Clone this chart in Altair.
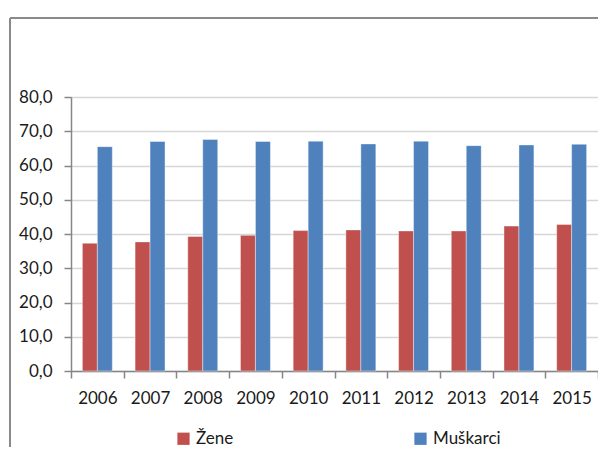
import altair as alt
import pandas as pd

years = ["2006", "2007", "2008", "2009", "2010", "2011", "2012", "2013", "2014", "2015"]
zene = [37.3, 37.7, 39.3, 39.6, 41.0, 41.2, 40.9, 40.9, 42.3, 42.8]
muskarci = [65.5, 67.0, 67.6, 67.0, 67.1, 66.3, 67.1, 65.8, 66.0, 66.2]
series = ["Žene", "Muškarci"]
colors = ["#C0504D", "#4F81BD"]

rows = []
for i, y in enumerate(years):
    rows.append({"godina": y, "pol": series[0], "vrijednost": zene[i]})
    rows.append({"godina": y, "pol": series[1], "vrijednost": muskarci[i]})
df = pd.DataFrame(rows)

FONT = "Lato"
W, H = 527, 274

bars = alt.Chart(df).mark_bar(stroke="#ffffff", strokeOpacity=0.5, strokeWidth=0.8).encode(
    x=alt.X("godina:N", sort=years, title=None,
            scale=alt.Scale(paddingInner=0, paddingOuter=0),
            axis=alt.Axis(labelAngle=0, tickBand="extent", grid=False,
                          domainColor="#868686", domainWidth=1.5,
                          tickColor="#868686", tickWidth=1.5, tickSize=7,
                          labelPadding=12, labelFont=FONT, labelFontSize=17,
                          labelColor="#1a1a1a")),
    xOffset=alt.XOffset("pol:N", sort=series,
                        scale=alt.Scale(paddingOuter=0.76, paddingInner=0)),
    y=alt.Y("vrijednost:Q", title=None,
            scale=alt.Scale(domain=[0, 80], nice=False),
            axis=alt.Axis(values=[0, 10, 20, 30, 40, 50, 60, 70, 80],
                          labelExpr="replace(format(datum.value, '.1f'), '.', ',')",
                          grid=True, gridColor="#d6d6d6", gridWidth=1.5,
                          domainColor="#868686", domainWidth=1.5,
                          tickColor="#868686", tickWidth=1.5, tickSize=7,
                          labelPadding=12, labelFont=FONT, labelFontSize=17,
                          labelColor="#1a1a1a")),
    color=alt.Color("pol:N", sort=series, title=None,
                    scale=alt.Scale(domain=series, range=colors),
                    legend=alt.Legend(orient="none", legendX=104, legendY=333,
                                      direction="horizontal", symbolType="square",
                                      symbolSize=150, symbolStrokeWidth=0,
                                      labelFont=FONT, labelFontSize=17,
                                      labelColor="#1a1a1a", labelOffset=4,
                                      columnPadding=178)),
)

frame_src = alt.Data(values=[{"k": 1}])
left_border = alt.Chart(frame_src).mark_rule(color="#8a8a8a", strokeWidth=2).encode(
    x=alt.value(-61), y=alt.value(-79), y2=alt.value(360)
)
top_border = alt.Chart(frame_src).mark_rule(color="#8a8a8a", strokeWidth=2).encode(
    x=alt.value(-61), x2=alt.value(560), y=alt.value(-79)
)

chart = alt.layer(bars, left_border, top_border).properties(
    width=W, height=H,
    autosize=alt.AutoSizeParams(type="none"),
    padding={"left": 63, "top": 89, "right": 0, "bottom": 76},
).configure_view(stroke=None).configure(background="white")

chart.save("out.html", embed_options={"renderer": "svg", "actions": False})
